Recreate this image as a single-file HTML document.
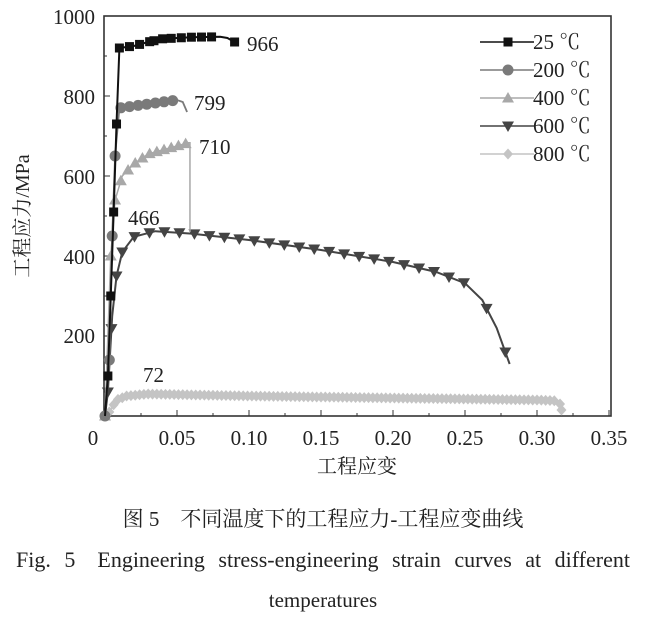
<!DOCTYPE html>
<html><head><meta charset="utf-8"><style>
body{margin:0;background:#fff;width:647px;height:617px;overflow:hidden}
svg text{font-family:"Liberation Serif","Noto Serif CJK SC",serif;fill:#222}
</style></head><body>
<svg id="s" width="647" height="617" xmlns="http://www.w3.org/2000/svg">
<rect x="104" y="16" width="507" height="400" fill="none" stroke="#333" stroke-width="1.6"/>
<g font-size="21">
<text x="93" y="445" text-anchor="middle">0</text>
<text x="177" y="445" text-anchor="middle">0.05</text>
<text x="249" y="445" text-anchor="middle">0.10</text>
<text x="321" y="445" text-anchor="middle">0.15</text>
<text x="393" y="445" text-anchor="middle">0.20</text>
<text x="465" y="445" text-anchor="middle">0.25</text>
<text x="537" y="445" text-anchor="middle">0.30</text>
<text x="609" y="445" text-anchor="middle">0.35</text>
<text x="95" y="24" text-anchor="end">1000</text>
<text x="95" y="104" text-anchor="end">800</text>
<text x="95" y="184" text-anchor="end">600</text>
<text x="95" y="264" text-anchor="end">400</text>
<text x="95" y="343" text-anchor="end">200</text>
</g>
<text x="357" y="473" font-size="20" text-anchor="middle" fill="#444">工程应变</text>
<text transform="translate(29,216) rotate(-90)" font-size="20" text-anchor="middle" fill="#444">工程应力/MPa</text>
<g font-size="21">
<text x="247" y="51">966</text>
<text x="194" y="110">799</text>
<text x="199" y="154">710</text>
<text x="128" y="225">466</text>
<text x="143" y="382">72</text>
</g>
<g id="c"></g>
<g font-size="21">
<text x="533" y="49">25 ℃</text>
<text x="533" y="77">200 ℃</text>
<text x="533" y="105">400 ℃</text>
<text x="533" y="133">600 ℃</text>
<text x="533" y="161">800 ℃</text>
</g>
<text x="323" y="526" font-size="21" text-anchor="middle">图 5　不同温度下的工程应力-工程应变曲线</text>
<text x="323" y="567" font-size="22" text-anchor="middle" word-spacing="8">Fig. 5　Engineering stress-engineering strain curves at different</text>
<text x="323" y="607" font-size="21" text-anchor="middle">temperatures</text>
</svg>
<script>
const X=e=>105+e*1440, Y=s=>416-s*0.4;
const g=document.getElementById('c');let h='';
for(let i=0;i<=14;i++){const x=X(i*0.025);h+=`<line x1="${x}" y1="416" x2="${x}" y2="${i%2?413:410}" stroke="#333"/>`;}
for(let i=0;i<=10;i++){const y=Y(i*100);h+=`<line x1="104" y1="${y}" x2="${i%2?107:110}" y2="${y}" stroke="#333"/>`;}
function interp(pts,e){for(let i=1;i<pts.length;i++){if(e<=pts[i][0]){const a=pts[i-1],b=pts[i];return a[1]+(b[1]-a[1])*(e-a[0])/(b[0]-a[0]);}}return pts[pts.length-1][1];}
function mk(t,x,y,c){
 if(t=='s')return `<rect x="${x-4.5}" y="${y-4.5}" width="9" height="9" fill="${c}"/>`;
 if(t=='o')return `<circle cx="${x}" cy="${y}" r="5.5" fill="${c}"/>`;
 if(t=='u')return `<path d="M${x},${y-6}L${x+6},${y+4.5}L${x-6},${y+4.5}Z" fill="${c}"/>`;
 if(t=='d')return `<path d="M${x},${y+6}L${x+6},${y-4.5}L${x-6},${y-4.5}Z" fill="${c}"/>`;
 return `<path d="M${x},${y-5.5}L${x+5},${y}L${x},${y+5.5}L${x-5},${y}Z" fill="${c}"/>`;
}
function series(pts,marks,t,c,w){
 h+=`<polyline points="${pts.map(p=>X(p[0])+','+Y(p[1])).join(' ')}" fill="none" stroke="${c}" stroke-width="${w}"/>`;
 marks.forEach(e=>{h+=mk(t,X(e),Y(interp(pts,e)),c);});
}
const r=(a,b,s)=>{const o=[];for(let e=a;e<=b+1e-9;e+=s)o.push(e);return o;};
const p8=[[0.0,0],[0.003,10],[0.008,40],[0.015,50],[0.03,55],[0.1,50],[0.2,45],[0.3,40],[0.313,38],[0.316,30],[0.317,15]];
series(p8,[0.0,0.003,0.006].concat(r(0.009,0.314,0.003)).concat([0.316,0.317]),'v','#c4c4c4',2);
const p6=[[0.0,0],[0.002,60],[0.005,250],[0.008,350],[0.012,410],[0.02,448],[0.035,462],[0.06,456],[0.1,440],[0.15,415],[0.2,385],[0.23,360],[0.25,332],[0.262,290],[0.272,220],[0.278,160],[0.281,130]];
series(p6,[0.002,0.0045,0.008,0.012].concat(r(0.0205,0.255,0.0104)).concat([0.265,0.278]),'d','#444',2);
const p4=[[0.0,0],[0.004,400],[0.007,540],[0.012,600],[0.02,630],[0.03,655],[0.045,670],[0.058,683],[0.059,683],[0.059,460]];
series(p4,[0.0,0.004,0.007,0.011,0.016,0.021,0.026,0.031,0.036,0.041,0.046,0.051,0.056],'u','#a8a8a8',1.5);
const p2=[[0.0,0],[0.003,140],[0.005,450],[0.007,650],[0.01,770],[0.02,775],[0.04,785],[0.05,790],[0.054,785],[0.057,760]];
series(p2,[0.0,0.003,0.005,0.007,0.011,0.017,0.023,0.029,0.035,0.041,0.047],'o','#7a7a7a',1.8);
const p1=[[0.0,0],[0.002,100],[0.004,300],[0.006,510],[0.008,730],[0.01,920],[0.02,925],[0.03,935],[0.04,943],[0.06,947],[0.08,948],[0.085,945],[0.09,935]];
series(p1,[0.002,0.004,0.006,0.008,0.01,0.017,0.024,0.031,0.034,0.04,0.046,0.053,0.06,0.067,0.074,0.09],'s','#111',2);
[['s','#111'],['o','#7a7a7a'],['u','#a8a8a8'],['d','#444'],['v','#c4c4c4']].forEach((m,i)=>{const y=42+i*28;
h+=`<line x1="480" y1="${y}" x2="534" y2="${y}" stroke="${m[1]}" stroke-width="1.6"/>`+mk(m[0],508,y,m[1]);});
g.innerHTML=h;
</script>
</body></html>
